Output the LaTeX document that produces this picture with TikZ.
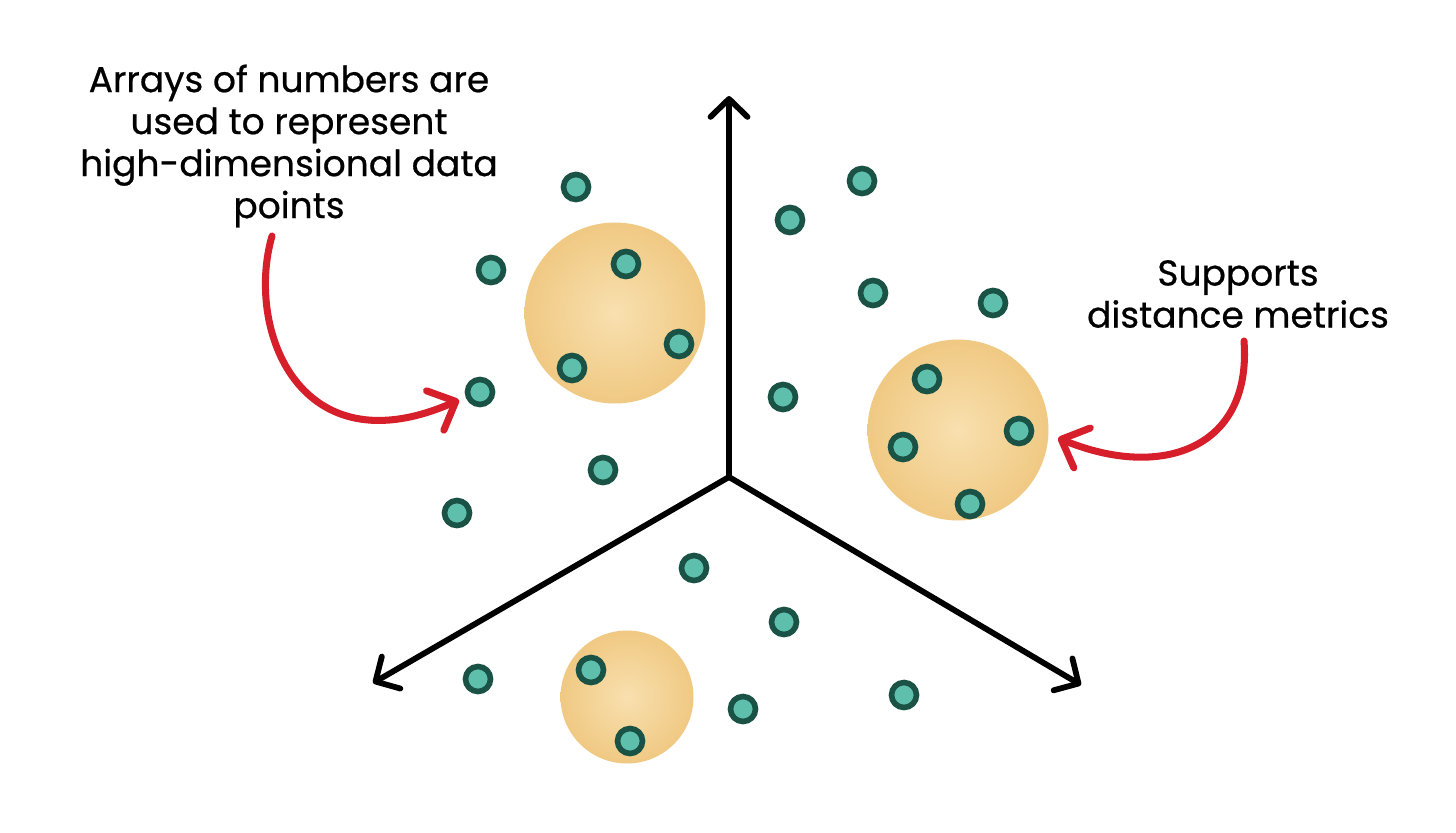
\documentclass[tikz,border=0pt]{standalone}
\usepackage{fontspec}
\setmainfont{Poppins}[FakeBold=0.6]
\usetikzlibrary{arrows.meta}
\definecolor{ringc}{HTML}{1A5246}
\definecolor{dotc}{HTML}{5FBFAD}
\definecolor{blobin}{HTML}{F8E0AF}
\definecolor{blobout}{HTML}{F0C983}
\definecolor{redc}{HTML}{D71F2B}
\begin{document}
\begin{tikzpicture}[x=0.02cm,y=-0.02cm,
  dot/.style={circle,draw=ringc,line width=3.2pt,fill=dotc,inner sep=0pt,minimum size=0.5cm},
  blob/.style={circle,inner sep=0pt,shading=radial,inner color=blobin,outer color=blobout},
  axis/.style={line width=3.3pt,line cap=round,-{Straight Barb[length=0.36cm,width=0.74cm,line cap=round,line join=round]}},
  callout/.style={line width=4pt,redc,line cap=round,-{Straight Barb[length=0.45cm,width=0.86cm,line cap=round,line join=round]}},
  lbl/.style={align=center,font=\fontsize{20.5}{23.9}\selectfont,inner sep=0pt}]
\useasboundingbox (0,0) rectangle (1456,832);
\fill[white] (0,0) rectangle (1456,832);
% blobs
\node[blob,minimum size=3.62cm] (b1) at (615,313) {};
\node[blob,minimum size=3.62cm] (b2) at (958,430) {};
\node[blob,minimum size=2.66cm] (b3) at (627,697) {};
% axes
\coordinate (o) at (729,477);
\coordinate (ay) at (729,96);
\coordinate (ax) at (373,683);
\coordinate (az) at (1081,685);
\draw[axis] (o) -- (ay);
\draw[axis] (o) -- (ax);
\draw[axis] (o) -- (az);
% dots
\foreach \n/\x/\y in {d1/576/187,d2/491/270,d3/626/264,d4/679/344,d5/572/368,d6/480/392,d7/603/470,d8/457/513,
  d9/790/220,d10/862/181,d11/873/293,d12/993/303,d13/783/397,d14/927/379,d15/1019/431,d16/903/447,d17/970/504,
  d18/694/568,d19/784/622,d20/478/679,d21/591/670,d22/630/741,d23/743/709,d24/904/695}
  \node[dot] (\n) at (\x,\y) {};
% labels
\node[lbl] (t1) at (289,146) {Arrays of numbers are\\used to represent\\high-dimensional data\\points};
\node[lbl] (t2) at (1238,294) {Supports\\distance metrics};
% callouts
\coordinate (s1) at (272,236);
\coordinate (e1) at (459,400);
\coordinate (s2) at (1244,341);
\coordinate (e2) at (1058,438);
\draw[callout] (s1) .. controls (245,330) and (300,470) .. (e1);
\draw[callout] (s2) .. controls (1252,450) and (1160,480) .. (e2);
\end{tikzpicture}
\end{document}
